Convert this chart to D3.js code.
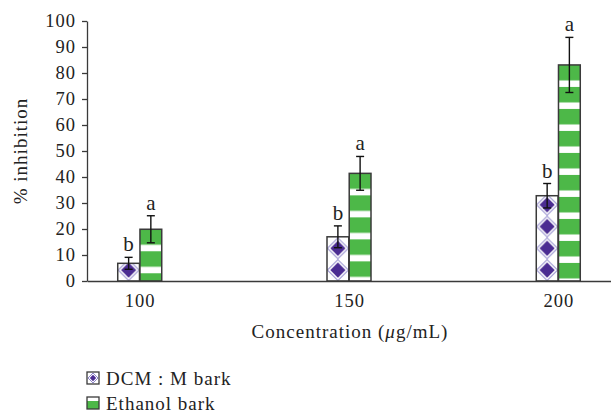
<!DOCTYPE html>
<html><head><meta charset="utf-8">
<script src="https://cdn.jsdelivr.net/npm/d3@7"></script>
<style>body{margin:0;background:#fff}svg{display:block}</style>
</head><body><svg id="c" width="611" height="413"></svg>
<script>
const categories = ["100", "150", "200"];
const seriesNames = ["DCM : M bark", "Ethanol bark"];
const dcmValues = [6.8, 17.0, 32.8];
const dcmErrors = [2.3, 4.2, 4.7];
const ethanolValues = [19.9, 41.4, 83.1];
const ethanolErrors = [5.2, 6.5, 10.6];
const dcmLetters = ["b", "b", "b"];
const ethanolLetters = ["a", "a", "a"];
const yTicks = [0, 10, 20, 30, 40, 50, 60, 70, 80, 90, 100];
const yLabel = "% inhibition";

const GREEN = "#4db848", PURPLE = "#4b2c92", LAV = "#9088cc", EDGE = "#3a3a3a";
const FONT = "'Liberation Serif', 'Times New Roman', serif";

const svg = d3.select("#c");
const x = d3.scalePoint().domain(categories).range([87, 611]).padding(0.252);
const xs = d3.scaleBand().domain(seriesNames).range([-22, 22]).paddingInner(0.02);
const y = d3.scaleLinear().domain([0, 100]).range([281, 21]);

const rows = [];
categories.forEach((c, i) => {
  rows.push({cat: c, s: seriesNames[0], v: dcmValues[i], e: dcmErrors[i], l: dcmLetters[i], k: 0, i});
  rows.push({cat: c, s: seriesNames[1], v: ethanolValues[i], e: ethanolErrors[i], l: ethanolLetters[i], k: 1, i});
});

const defs = svg.append("defs");
const bw = xs.bandwidth();
rows.forEach(d => {
  const bx = x(d.cat) + xs(d.s);
  const p = defs.append("pattern").attr("id", "p" + d.k + "_" + d.i)
    .attr("patternUnits", "userSpaceOnUse");
  if (d.k === 0) {
    const h = bw;
    p.attr("x", bx).attr("y", y(0)).attr("width", bw).attr("height", h);
    p.append("rect").attr("width", bw).attr("height", h).attr("fill", "#fff");
    p.append("path").attr("d", `M${bw/2},0.5L${bw-0.5},${h/2}L${bw/2},${h-0.5}L0.5,${h/2}Z`)
      .attr("fill", "none").attr("stroke", LAV).attr("stroke-width", 1);
    const ins = 3.3;
    p.append("path").attr("d", `M${bw/2},${ins}L${bw-ins},${h/2}L${bw/2},${h-ins}L${ins},${h/2}Z`)
      .attr("fill", PURPLE);
  } else {
    const h = 22;
    p.attr("x", bx).attr("y", y(d.v)).attr("width", bw).attr("height", h);
    p.append("rect").attr("width", bw).attr("height", h).attr("fill", "#fff");
    p.append("rect").attr("y", 0).attr("width", bw).attr("height", 15.5).attr("fill", GREEN);
  }
});

// bars
svg.append("g").selectAll("rect").data(rows).join("rect")
  .attr("x", d => x(d.cat) + xs(d.s))
  .attr("y", d => y(d.v))
  .attr("width", bw)
  .attr("height", d => y(0) - y(d.v))
  .attr("fill", d => `url(#p${d.k}_${d.i})`)
  .attr("stroke", EDGE).attr("stroke-width", 1.5);

// error bars
const eg = svg.append("g").attr("stroke", "#111").attr("stroke-width", 1.4);
rows.forEach(d => {
  const cx = x(d.cat) + xs(d.s) + bw / 2;
  eg.append("line").attr("x1", cx).attr("x2", cx).attr("y1", y(d.v - d.e)).attr("y2", y(d.v + d.e));
  [d.v - d.e, d.v + d.e].forEach(v => {
    eg.append("line").attr("x1", cx - 4).attr("x2", cx + 4).attr("y1", y(v)).attr("y2", y(v));
  });
});

// letters
svg.append("g").selectAll("text").data(rows).join("text")
  .attr("x", d => x(d.cat) + xs(d.s) + bw / 2)
  .attr("y", d => y(d.v + d.e) - 6)
  .attr("text-anchor", "middle")
  .attr("font-family", FONT).attr("font-size", 21).attr("fill", "#222")
  .text(d => d.l);

// y axis
const ya = svg.append("g").attr("transform", `translate(87,0)`)
  .call(d3.axisLeft(y).tickValues(yTicks).tickSize(5).tickSizeOuter(0).tickPadding(6));
ya.select(".domain").attr("stroke", EDGE).attr("stroke-width", 1.3);
ya.selectAll(".tick line").attr("stroke", EDGE).attr("stroke-width", 1.3);
ya.selectAll("text").attr("font-family", FONT).attr("font-size", 18.5).attr("letter-spacing", 1).attr("fill", "#222");

// x axis
const xa = svg.append("g").attr("transform", `translate(0,${y(0)})`)
  .call(d3.axisBottom(x).tickSize(0).tickSizeOuter(0).tickPadding(13));
xa.select(".domain").attr("stroke", EDGE).attr("stroke-width", 1.3);
xa.selectAll("text").attr("font-family", FONT).attr("font-size", 18.5).attr("letter-spacing", 1).attr("fill", "#222");

// axis titles
svg.append("text").attr("transform", `translate(27,${y(50)}) rotate(-90)`)
  .attr("text-anchor", "middle").attr("font-family", FONT).attr("font-size", 19).attr("letter-spacing", 1)
  .attr("fill", "#222").text(yLabel);
const xt = svg.append("text").attr("x", 350).attr("y", 338).attr("text-anchor", "middle")
  .attr("font-family", FONT).attr("font-size", 19).attr("letter-spacing", 1).attr("fill", "#222");
xt.append("tspan").text("Concentration (");
xt.append("tspan").attr("font-style", "italic").text("μ");
xt.append("tspan").text("g/mL)");

// legend
const lg = svg.append("g");
seriesNames.forEach((s, k) => {
  const ly = 372 + k * 25;
  const g = lg.append("g").attr("transform", `translate(87,${ly})`);
  const sz = 12;
  g.append("rect").attr("width", sz).attr("height", sz).attr("fill", "#fff");
  if (k === 0) {
    g.append("path").attr("d", `M${sz/2},1L${sz-1},${sz/2}L${sz/2},${sz-1}L1,${sz/2}Z`)
      .attr("fill", "none").attr("stroke", LAV).attr("stroke-width", 1);
    g.append("path").attr("d", `M${sz/2},2.8L${sz-2.8},${sz/2}L${sz/2},${sz-2.8}L2.8,${sz/2}Z`).attr("fill", PURPLE);
  } else {
    g.append("rect").attr("y", 4).attr("width", sz).attr("height", sz - 4).attr("fill", GREEN);
  }
  g.append("rect").attr("width", sz).attr("height", sz).attr("fill", "none").attr("stroke", EDGE).attr("stroke-width", 1.3);
  g.append("text").attr("x", 19).attr("y", sz + 1).attr("font-family", FONT).attr("font-size", 19)
    .attr("letter-spacing", 1).attr("fill", "#222")
    .text(s);
});
</script></body></html>
